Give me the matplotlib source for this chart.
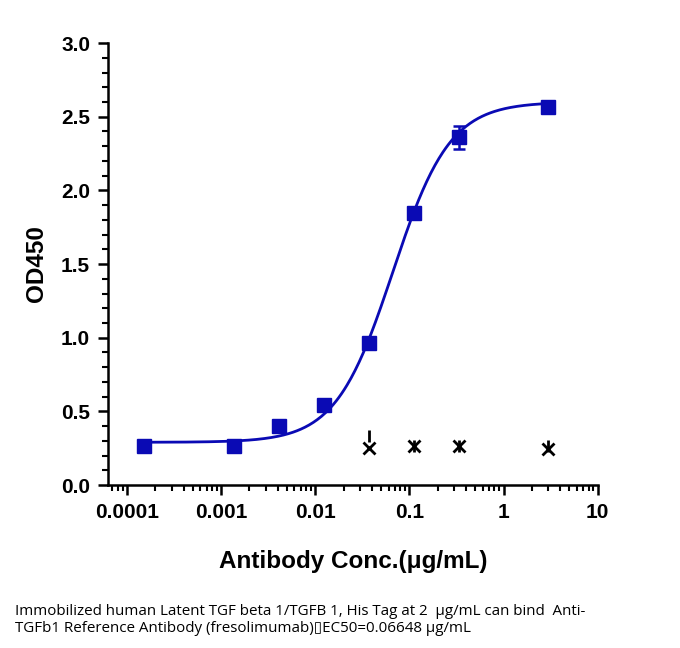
import numpy as np
import matplotlib.pyplot as plt
from matplotlib.ticker import LogLocator, MultipleLocator, FixedLocator, NullFormatter

# data
conc = [0.000152, 0.00137, 0.00412, 0.0123, 0.037, 0.111, 0.333, 3.0]
od = [0.265, 0.265, 0.40, 0.54, 0.965, 1.85, 2.36, 2.565]
od_err = [0.0, 0.0, 0.0, 0.03, 0.0, 0.0, 0.08, 0.0]

# 4PL fit parameters (EC50 from caption)
bottom, top, ec50, hill = 0.29, 2.60, 0.06648, 1.43

# flagged points near the axis
mark_x = [0.037, 0.111, 0.333, 3.0]
mark_y = [0.25, 0.265, 0.265, 0.245]
stick_y = [0.33, 0.265, 0.265, 0.265]

xticks = [0.0001, 0.001, 0.01, 0.1, 1, 10]
xlabels = ['0.0001', '0.001', '0.01', '0.1', '1', '10']
yticks = [0.0, 0.5, 1.0, 1.5, 2.0, 2.5, 3.0]

blue = '#0A0AB4'

fig = plt.figure(figsize=(6.8, 6.48), dpi=100)
ax = fig.add_axes([0.159, 0.2515, 0.72, 0.682])

xs = np.logspace(np.log10(conc[0]), np.log10(conc[-1]), 300)
fit = bottom + (top - bottom) / (1 + (ec50 / xs) ** hill)
ax.plot(xs, fit, color=blue, lw=2)
ax.errorbar(conc, od, yerr=od_err, fmt='s', color=blue, ms=9.5,
            elinewidth=1.8, capsize=4, capthick=1.8)

ax.plot(mark_x, mark_y, 'x', color='black', ms=8, mew=2)
ax.plot(mark_x, stick_y, '|', color='black', ms=8, mew=2)

ax.set_xscale('log')
ax.set_xlim(6.3e-5, 10)
ax.set_ylim(0, 3.0)
ax.xaxis.set_major_locator(FixedLocator(xticks))
ax.set_xticklabels(xlabels)
ax.xaxis.set_minor_locator(LogLocator(base=10, subs=np.arange(2, 10)))
ax.xaxis.set_minor_formatter(NullFormatter())
ax.set_yticks(yticks)
ax.set_yticklabels([f'{v:.1f}' for v in yticks])
ax.yaxis.set_minor_locator(MultipleLocator(0.1))

for s in ['top', 'right']:
    ax.spines[s].set_visible(False)
for s in ['left', 'bottom']:
    ax.spines[s].set_linewidth(1.8)

ax.tick_params(which='major', length=7, width=1.8, direction='out', pad=6)
ax.tick_params(which='minor', length=4, width=1.5, direction='out')
for lab in ax.get_xticklabels() + ax.get_yticklabels():
    lab.set_fontfamily('Liberation Sans')
    lab.set_fontweight('bold')
    lab.set_fontsize(15)

ax.set_xlabel('Antibody Conc.(μg/mL)', fontfamily='Liberation Sans', fontweight='bold',
              fontsize=17.5, labelpad=20)
ax.set_ylabel('OD450', fontfamily='Liberation Sans', fontweight='bold', fontsize=17.5, labelpad=9)

fig.text(0.022, 0.018, 'Immobilized human Latent TGF beta 1/TGFB 1, His Tag at 2  μg/mL can bind  Anti-\n'
         'TGFb1 Reference Antibody (fresolimumab)\u25afEC50=0.06648 μg/mL',
         family=['Open Sans', 'DejaVu Sans'], fontsize=10.9, va='bottom', ha='left',
         linespacing=1.25)

fig.savefig('out.png', dpi=100)
